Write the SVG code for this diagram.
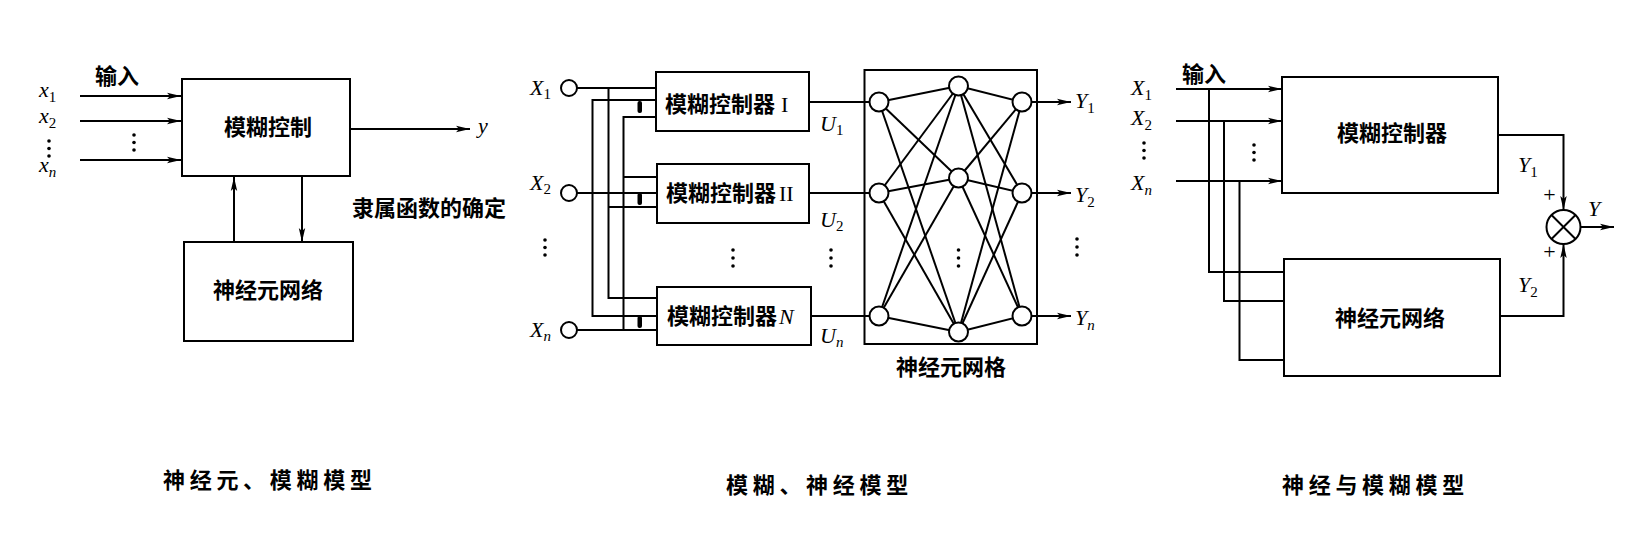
<svg xmlns="http://www.w3.org/2000/svg" width="1652" height="544" viewBox="0 0 1652 544">
<style>
.ln{fill:none;stroke:#000;stroke-width:2}
.bx{fill:#fff;stroke:#000;stroke-width:2}
.nd{fill:#fff;stroke:#000;stroke-width:2}
.cjk{font-family:"Noto Sans CJK SC",sans-serif;font-weight:bold;font-size:22px;fill:#000}
.ttl{font-family:"Noto Sans CJK SC",sans-serif;font-weight:bold;font-size:22px;letter-spacing:4.7px;fill:#000}
.it{font-family:"Liberation Serif",serif;font-style:italic;font-size:22px;fill:#000}
.sub{font-family:"Liberation Serif",serif;font-style:normal;font-size:15px}
.subi{font-family:"Liberation Serif",serif;font-style:italic;font-size:15px}
.rm{font-family:"Liberation Serif",serif;font-size:22px;fill:#000}
.dot{fill:#000}
</style>
<defs>
<marker id="ar" markerUnits="userSpaceOnUse" markerWidth="14" markerHeight="8" refX="14" refY="4" orient="auto">
<path d="M0,0.8 L14,4 L0,7.2 L3,4 Z" fill="#000"/>
</marker>
</defs>
<rect width="1652" height="544" fill="#fff"/>

<!-- ===== LEFT PANEL ===== -->
<g id="connectors-left">
<line class="ln" x1="80" y1="96" x2="181" y2="96" marker-end="url(#ar)"/>
<line class="ln" x1="80" y1="121" x2="181" y2="121" marker-end="url(#ar)"/>
<line class="ln" x1="80" y1="160" x2="181" y2="160" marker-end="url(#ar)"/>
<line class="ln" x1="350" y1="129" x2="470" y2="129" marker-end="url(#ar)"/>
<line class="ln" x1="234" y1="242" x2="234" y2="177" marker-end="url(#ar)"/>
<line class="ln" x1="302" y1="177" x2="302" y2="242" marker-end="url(#ar)"/>
</g>
<g id="fuzzy-ctrl-left">
<rect class="bx" x="182" y="79" width="168" height="97"/>
<text class="cjk" x="268" y="135" text-anchor="middle" font-size="23">模糊控制</text>
</g>
<g id="neural-left">
<rect class="bx" x="184" y="242" width="169" height="99"/>
<text class="cjk" x="268" y="298" text-anchor="middle" font-size="23">神经元网络</text>
</g>
<g id="labels-left">
<text class="cjk" x="95" y="84" font-size="20">输入</text>
<text class="it" x="39" y="97">x<tspan class="sub" dy="5">1</tspan></text>
<text class="it" x="39" y="123">x<tspan class="sub" dy="5">2</tspan></text>
<circle class="dot" cx="49" cy="141" r="1.8"/><circle class="dot" cx="49" cy="148.5" r="1.8"/><circle class="dot" cx="49" cy="156" r="1.8"/>
<text class="it" x="39" y="172">x<tspan class="subi" dy="5">n</tspan></text>
<circle class="dot" cx="134" cy="135" r="1.8"/><circle class="dot" cx="134" cy="142.5" r="1.8"/><circle class="dot" cx="134" cy="150" r="1.8"/>
<text class="it" x="478" y="133">y</text>
<text class="cjk" x="352" y="216" font-size="23">隶属函数的确定</text>
<text class="ttl" x="163" y="488">神经元、模糊模型</text>
</g>

<!-- ===== MIDDLE PANEL ===== -->
<g id="connectors-mid">
<line class="ln" x1="577" y1="88" x2="656" y2="88"/>
<polyline class="ln" points="608.5,88 608.5,298 657,298"/>
<line class="ln" x1="608.5" y1="207" x2="657" y2="207"/>
<line class="ln" x1="577" y1="193" x2="657" y2="193"/>
<polyline class="ln" points="656,100 592.5,100 592.5,316 657,316"/>
<line class="ln" x1="577" y1="330" x2="657" y2="330"/>
<polyline class="ln" points="656,117 623.5,117 623.5,330"/>
<line class="ln" x1="623.5" y1="177" x2="657" y2="177"/>
<rect x="637.5" y="101" width="4.5" height="12" rx="2" fill="#000"/>
<rect x="637.5" y="193" width="4.5" height="12" rx="2" fill="#000"/>
<rect x="637.5" y="316" width="4.5" height="12" rx="2" fill="#000"/>
<line class="ln" x1="809" y1="102" x2="870" y2="102"/>
<line class="ln" x1="809" y1="193" x2="870" y2="193"/>
<line class="ln" x1="811" y1="316" x2="870" y2="316"/>
<g class="ln" stroke-width="1.8">
<line x1="879" y1="102" x2="958.5" y2="86"/><line x1="879" y1="102" x2="958.5" y2="178"/><line x1="879" y1="102" x2="958.5" y2="332"/>
<line x1="879" y1="193" x2="958.5" y2="86"/><line x1="879" y1="193" x2="958.5" y2="178"/><line x1="879" y1="193" x2="958.5" y2="332"/>
<line x1="879" y1="316" x2="958.5" y2="86"/><line x1="879" y1="316" x2="958.5" y2="178"/><line x1="879" y1="316" x2="958.5" y2="332"/>
<line x1="958.5" y1="86" x2="1022" y2="102"/><line x1="958.5" y1="86" x2="1022" y2="193"/><line x1="958.5" y1="86" x2="1022" y2="316"/>
<line x1="958.5" y1="178" x2="1022" y2="102"/><line x1="958.5" y1="178" x2="1022" y2="193"/><line x1="958.5" y1="178" x2="1022" y2="316"/>
<line x1="958.5" y1="332" x2="1022" y2="102"/><line x1="958.5" y1="332" x2="1022" y2="193"/><line x1="958.5" y1="332" x2="1022" y2="316"/>
</g>
<line class="ln" x1="1031.5" y1="102" x2="1071" y2="102" marker-end="url(#ar)"/>
<line class="ln" x1="1031.5" y1="193" x2="1071" y2="193" marker-end="url(#ar)"/>
<line class="ln" x1="1031.5" y1="316" x2="1071" y2="316" marker-end="url(#ar)"/>
</g>
<g id="inputs-mid">
<circle class="nd" cx="569" cy="88" r="8"/>
<circle class="nd" cx="569" cy="193" r="8"/>
<circle class="nd" cx="569" cy="330" r="8"/>
<text class="it" x="530" y="95">X<tspan class="sub" dy="4">1</tspan></text>
<text class="it" x="530" y="190">X<tspan class="sub" dy="4">2</tspan></text>
<text class="it" x="530" y="337">X<tspan class="subi" dy="4">n</tspan></text>
<circle class="dot" cx="545" cy="240" r="1.8"/><circle class="dot" cx="545" cy="247.5" r="1.8"/><circle class="dot" cx="545" cy="255" r="1.8"/>
</g>
<g id="fuzzy-ctrl-1">
<rect class="bx" x="656" y="72" width="153" height="59"/>
<text x="665" y="112"><tspan class="cjk">模糊控制器</tspan><tspan class="rm" dx="6">I</tspan></text>
</g>
<g id="fuzzy-ctrl-2">
<rect class="bx" x="657" y="164" width="152" height="59"/>
<text x="666" y="201"><tspan class="cjk">模糊控制器</tspan><tspan class="rm" dx="3">II</tspan></text>
</g>
<g id="fuzzy-ctrl-n">
<rect class="bx" x="657" y="287" width="154" height="58"/>
<text x="667" y="324"><tspan class="cjk">模糊控制器</tspan><tspan class="it" dx="2">N</tspan></text>
</g>
<g id="neural-mid">
<rect class="ln" x="864.5" y="70" width="172.5" height="274"/>
<circle class="nd" cx="879" cy="102" r="9.5"/>
<circle class="nd" cx="879" cy="193" r="9.5"/>
<circle class="nd" cx="879" cy="316" r="9.5"/>
<circle class="nd" cx="958.5" cy="86" r="9.5"/>
<circle class="nd" cx="958.5" cy="178" r="9.5"/>
<circle class="nd" cx="958.5" cy="332" r="9.5"/>
<circle class="nd" cx="1022" cy="102" r="9.5"/>
<circle class="nd" cx="1022" cy="193" r="9.5"/>
<circle class="nd" cx="1022" cy="316" r="9.5"/>
<circle class="dot" cx="958.5" cy="250" r="1.8"/><circle class="dot" cx="958.5" cy="258" r="1.8"/><circle class="dot" cx="958.5" cy="266" r="1.8"/>
<text class="cjk" x="951" y="375" text-anchor="middle">神经元网格</text>
</g>
<g id="labels-mid">
<text class="it" x="820" y="131">U<tspan class="sub" dy="4">1</tspan></text>
<text class="it" x="820" y="227">U<tspan class="sub" dy="4">2</tspan></text>
<text class="it" x="820" y="343">U<tspan class="subi" dy="4">n</tspan></text>
<circle class="dot" cx="733" cy="250" r="1.8"/><circle class="dot" cx="733" cy="258" r="1.8"/><circle class="dot" cx="733" cy="266" r="1.8"/>
<circle class="dot" cx="831" cy="250" r="1.8"/><circle class="dot" cx="831" cy="258" r="1.8"/><circle class="dot" cx="831" cy="266" r="1.8"/>
<text class="it" x="1075" y="108">Y<tspan class="sub" dy="5">1</tspan></text>
<text class="it" x="1075" y="202">Y<tspan class="sub" dy="5">2</tspan></text>
<text class="it" x="1075" y="325">Y<tspan class="subi" dy="5">n</tspan></text>
<circle class="dot" cx="1077" cy="239" r="1.8"/><circle class="dot" cx="1077" cy="247" r="1.8"/><circle class="dot" cx="1077" cy="255" r="1.8"/>
<text class="ttl" x="726" y="493">模糊、神经模型</text>
</g>

<!-- ===== RIGHT PANEL ===== -->
<g id="connectors-right">
<line class="ln" x1="1176" y1="89" x2="1282" y2="89" marker-end="url(#ar)"/>
<line class="ln" x1="1176" y1="121" x2="1282" y2="121" marker-end="url(#ar)"/>
<line class="ln" x1="1176" y1="181" x2="1282" y2="181" marker-end="url(#ar)"/>
<polyline class="ln" points="1209,89 1209,272 1284,272"/>
<polyline class="ln" points="1224,121 1224,301 1284,301"/>
<polyline class="ln" points="1239.5,181 1239.5,360 1284,360"/>
<polyline class="ln" points="1498,135 1563.5,135 1563.5,210" marker-end="url(#ar)"/>
<polyline class="ln" points="1500,316 1563.5,316 1563.5,244" marker-end="url(#ar)"/>
<line class="ln" x1="1580.5" y1="227" x2="1614" y2="227" marker-end="url(#ar)"/>
</g>
<g id="fuzzy-ctrl-right">
<rect class="bx" x="1282" y="77" width="216" height="116"/>
<text class="cjk" x="1392" y="141" text-anchor="middle" font-size="23">模糊控制器</text>
</g>
<g id="neural-right">
<rect class="bx" x="1284" y="259" width="216" height="117"/>
<text class="cjk" x="1390" y="326" text-anchor="middle" font-size="23">神经元网络</text>
</g>
<g id="sum-node">
<circle class="nd" cx="1563.5" cy="227" r="17"/>
<line class="ln" x1="1551.5" y1="215" x2="1575.5" y2="239"/>
<line class="ln" x1="1575.5" y1="215" x2="1551.5" y2="239"/>
</g>
<g id="labels-right">
<text class="cjk" x="1182" y="82" font-size="20">输入</text>
<text class="it" x="1131" y="95">X<tspan class="sub" dy="5">1</tspan></text>
<text class="it" x="1131" y="125">X<tspan class="sub" dy="5">2</tspan></text>
<circle class="dot" cx="1144" cy="143" r="1.8"/><circle class="dot" cx="1144" cy="150.5" r="1.8"/><circle class="dot" cx="1144" cy="158" r="1.8"/>
<text class="it" x="1131" y="190">X<tspan class="subi" dy="5">n</tspan></text>
<circle class="dot" cx="1254" cy="145" r="1.8"/><circle class="dot" cx="1254" cy="152.5" r="1.8"/><circle class="dot" cx="1254" cy="160" r="1.8"/>
<text class="it" x="1518" y="172">Y<tspan class="sub" dy="5">1</tspan></text>
<text class="it" x="1518" y="292">Y<tspan class="sub" dy="5">2</tspan></text>
<text class="it" x="1588" y="216">Y</text>
<text class="rm" x="1549.5" y="202" font-size="17" text-anchor="middle">+</text>
<text class="rm" x="1549.5" y="259" font-size="17" text-anchor="middle">+</text>
<text class="ttl" x="1282" y="493">神经与模糊模型</text>
</g>
</svg>
